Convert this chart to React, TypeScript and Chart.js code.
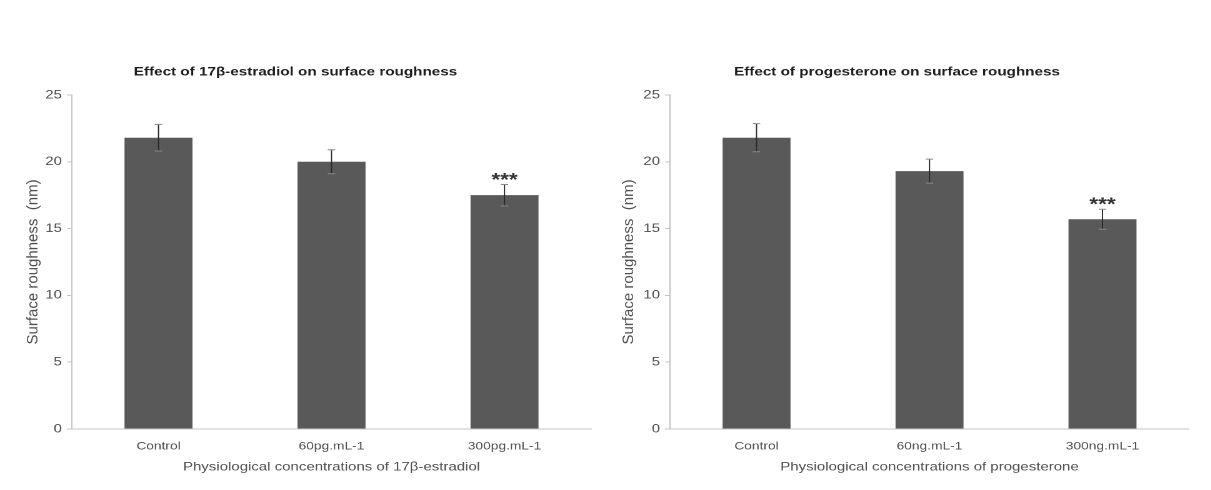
import React, { useEffect, useRef } from "react";
import { Chart, registerables } from "chart.js";

Chart.register(...registerables);

// ---- data ----
const estradiolCategories = ["Control", "60pg.mL-1", "300pg.mL-1"];
const estradiolMeans = [21.8, 20.0, 17.5];
const estradiolErrors = [1.0, 0.9, 0.8];
const estradiolSignificance = ["", "", "***"];

const progesteroneCategories = ["Control", "60ng.mL-1", "300ng.mL-1"];
const progesteroneMeans = [21.8, 19.3, 15.7];
const progesteroneErrors = [1.05, 0.9, 0.75];
const progesteroneSignificance = ["", "", "***"];

const yMin = 0;
const yMax = 25;
const yStep = 5;

const estradiolTitle = "Effect of 17β-estradiol on surface roughness";
const estradiolXTitle = "Physiological concentrations of 17β-estradiol";
const progesteroneTitle = "Effect of progesterone on surface roughness";
const progesteroneXTitle = "Physiological concentrations of progesterone";
const yTitle = "Surface roughness  (nm)";

// ---- style ----
const FONT = "'Liberation Sans', Arial, Helvetica, sans-serif";
const STRETCH = 1.25;
const BAR_COLOR = "#595959";
const AXIS_COLOR = "#c4c4c4";
const TEXT_COLOR = "#505050";

const errorBarPlugin = {
  id: "errorBars",
  afterDatasetsDraw(chart: any, _args: any, opts: any) {
    const meta = chart.getDatasetMeta(0);
    const y = chart.scales.y;
    const data = chart.data.datasets[0].data as number[];
    const errs: number[] = opts.errors || [];
    const sig: string[] = opts.significance || [];
    const ctx = chart.ctx;
    ctx.save();
    meta.data.forEach((bar: any, i: number) => {
      const v = data[i];
      const e = errs[i] || 0;
      const x = bar.x;
      const top = y.getPixelForValue(v + e);
      const bot = y.getPixelForValue(v - e);
      ctx.strokeStyle = "#2a2a2a";
      ctx.lineWidth = 1;
      ctx.beginPath();
      ctx.moveTo(x, top);
      ctx.lineTo(x, bot);
      ctx.stroke();
      ctx.strokeStyle = "#8a8a8a";
      ctx.beginPath();
      ctx.moveTo(x - 3, top);
      ctx.lineTo(x + 3, top);
      ctx.moveTo(x - 3, bot);
      ctx.lineTo(x + 3, bot);
      ctx.stroke();
      if (sig[i]) {
        ctx.fillStyle = "#333333";
        ctx.font = `bold 18px ${FONT}`;
        ctx.textAlign = "center";
        ctx.textBaseline = "alphabetic";
        ctx.fillText(sig[i], x, top + 1.5);
      }
    });
    ctx.restore();
  },
};

// y-axis title drawn un-stretched (compensates the horizontal CSS stretch)
const yTitlePlugin = {
  id: "yTitleText",
  afterDraw(chart: any, _args: any, opts: any) {
    const area = chart.chartArea;
    const ctx = chart.ctx;
    ctx.save();
    ctx.translate(opts.x, (area.top + area.bottom) / 2);
    ctx.scale(1 / STRETCH, 1);
    ctx.rotate(-Math.PI / 2);
    ctx.fillStyle = TEXT_COLOR;
    ctx.font = `15px ${FONT}`;
    ctx.textAlign = "center";
    ctx.textBaseline = "middle";
    ctx.fillText(opts.text, 0, 0);
    ctx.restore();
  },
};

type PanelProps = {
  categories: string[];
  means: number[];
  errors: number[];
  significance: string[];
  title: string;
  xTitle: string;
  yAxisWidth: number;
  rightPad: number;
  yTitleX: number;
};

function Panel(p: PanelProps) {
  const ref = useRef<HTMLCanvasElement | null>(null);
  useEffect(() => {
    if (!ref.current) return;
    const chart = new Chart(ref.current, {
      type: "bar",
      data: {
        labels: p.categories,
        datasets: [
          {
            data: p.means,
            backgroundColor: BAR_COLOR,
            borderWidth: 0,
            barPercentage: 0.393,
            categoryPercentage: 1,
          },
        ],
      },
      options: {
        animation: false,
        responsive: true,
        maintainAspectRatio: false,
        devicePixelRatio: 2,
        layout: { padding: { left: 0, right: p.rightPad, top: 0, bottom: 0 } },
        plugins: {
          legend: { display: false },
          tooltip: { enabled: false },
          title: {
            display: true,
            text: p.title,
            color: "#1e1e1e",
            font: { family: FONT, size: 12.2, weight: "bold" },
            padding: { top: 64.7, bottom: 15.6 },
          },
          errorBars: { errors: p.errors, significance: p.significance },
          yTitleText: { text: yTitle, x: p.yTitleX },
        } as any,
        scales: {
          x: {
            afterFit: (s: any) => {
              s.height = 61;
            },
            grid: { display: false, drawTicks: false },
            border: { display: true, color: AXIS_COLOR, width: 1 },
            ticks: {
              color: TEXT_COLOR,
              font: { family: FONT, size: 11 },
              padding: 11,
            },
            title: {
              display: true,
              text: p.xTitle,
              color: TEXT_COLOR,
              font: { family: FONT, size: 12 },
              padding: { top: 0, bottom: 15.8 },
            },
          },
          y: {
            min: yMin,
            max: yMax,
            afterFit: (s: any) => {
              s.width = p.yAxisWidth;
            },
            grid: {
              display: true,
              drawOnChartArea: false,
              drawTicks: true,
              tickLength: 4,
              color: AXIS_COLOR,
            },
            border: { display: true, color: AXIS_COLOR, width: 1 },
            ticks: {
              stepSize: yStep,
              color: TEXT_COLOR,
              font: { family: FONT, size: 12 },
              padding: 4,
            },
          },
        },
      },
      plugins: [errorBarPlugin, yTitlePlugin],
    });
    return () => chart.destroy();
  }, []);
  return <canvas ref={ref} />;
}

export default function App() {
  const wrap: React.CSSProperties = {
    position: "absolute",
    top: 0,
    height: 490,
    transform: `scaleX(${STRETCH})`,
    transformOrigin: "0 0",
  };
  return (
    <div
      style={{
        position: "fixed",
        left: 0,
        top: 0,
        width: 1211,
        height: 490,
        background: "#ffffff",
        overflow: "hidden",
      }}
    >
      <div style={{ ...wrap, left: 0, width: 484 }}>
        <Panel
          categories={estradiolCategories}
          means={estradiolMeans}
          errors={estradiolErrors}
          significance={estradiolSignificance}
          title={estradiolTitle}
          xTitle={estradiolXTitle}
          yAxisWidth={57.6}
          rightPad={11.2}
          yTitleX={26.6}
        />
      </div>
      <div style={{ ...wrap, left: 605, width: 485 }}>
        <Panel
          categories={progesteroneCategories}
          means={progesteroneMeans}
          errors={progesteroneErrors}
          significance={progesteroneSignificance}
          title={progesteroneTitle}
          xTitle={progesteroneXTitle}
          yAxisWidth={52}
          rightPad={17.8}
          yTitleX={19.4}
        />
      </div>
    </div>
  );
}
